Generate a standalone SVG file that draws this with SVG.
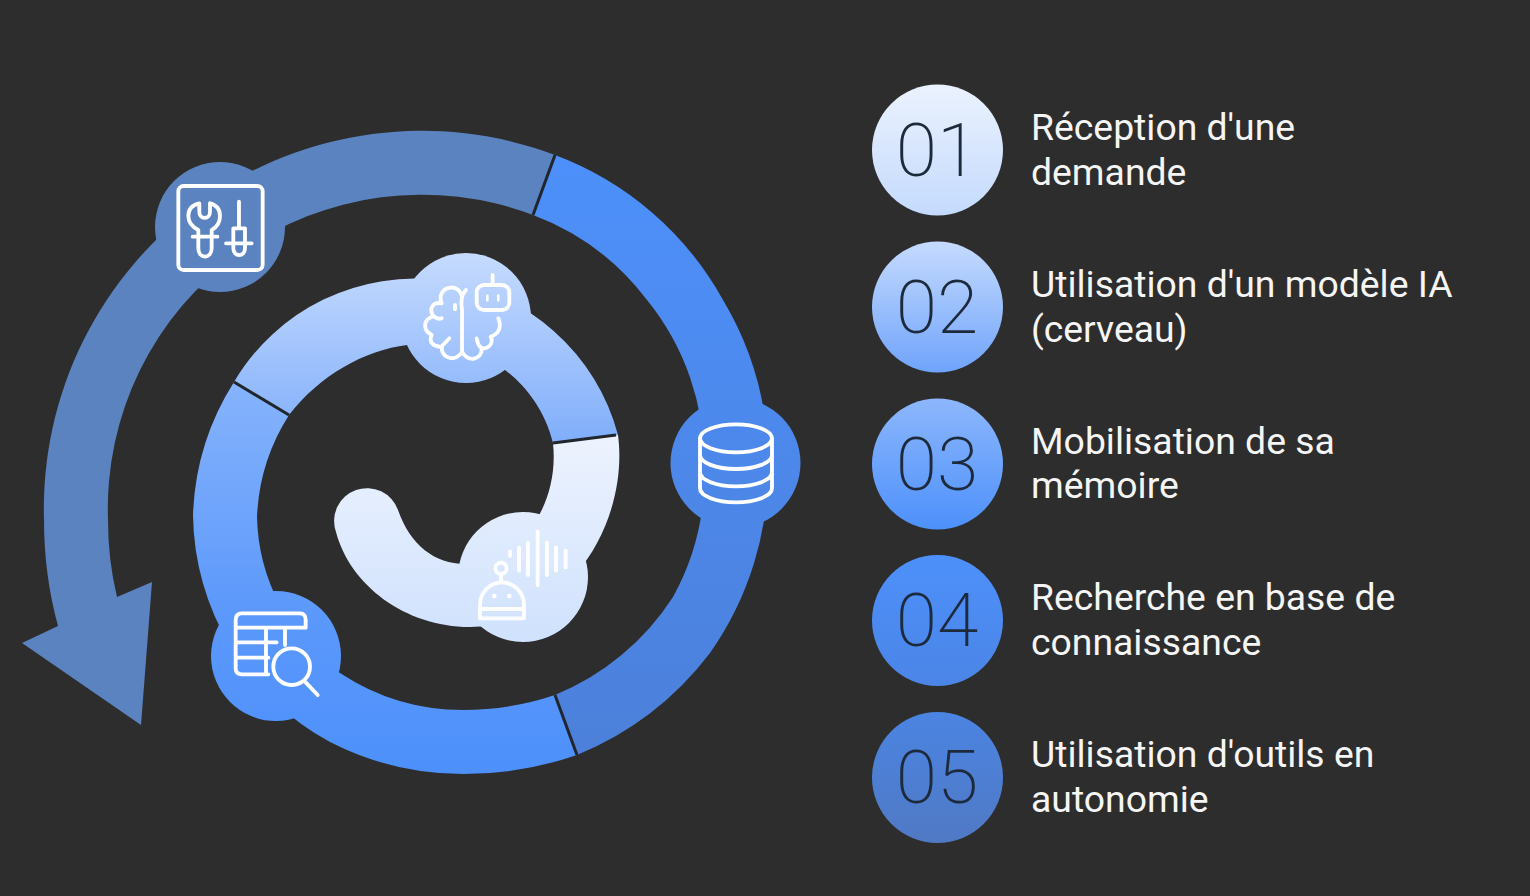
<svg xmlns="http://www.w3.org/2000/svg" width="1530" height="896" viewBox="0 0 1530 896">
<style>
.ic{fill:none;stroke:#fff;stroke-width:11.500;stroke-linecap:round;stroke-linejoin:round}
.sep{stroke:#20262c;stroke-width:3;fill:none}
.lbl{font-family:Roboto,"Liberation Sans",sans-serif;font-size:37.330px;fill:#f5f5f5}
.num{font-family:Roboto,"Liberation Sans",sans-serif;font-size:75px;font-weight:200;fill:#1c2a3c;text-anchor:middle}
</style>
<defs>
<linearGradient id="g1" gradientUnits="userSpaceOnUse" x1="0" y1="435" x2="0" y2="645"><stop offset="0" stop-color="#edf3fe"/><stop offset="1" stop-color="#cfe1fd"/></linearGradient>
<linearGradient id="g2" gradientUnits="userSpaceOnUse" x1="0" y1="253" x2="0" y2="445"><stop offset="0" stop-color="#c6dbfe"/><stop offset="1" stop-color="#7fadfb"/></linearGradient>
<linearGradient id="g3" gradientUnits="userSpaceOnUse" x1="0" y1="382" x2="0" y2="773"><stop offset="0" stop-color="#86b3fc"/><stop offset=".6" stop-color="#5b98fb"/><stop offset="1" stop-color="#4d90fb"/></linearGradient>
<linearGradient id="g4" gradientUnits="userSpaceOnUse" x1="0" y1="155" x2="0" y2="755"><stop offset="0" stop-color="#4d90fb"/><stop offset="1" stop-color="#4c80da"/></linearGradient>
<linearGradient id="c1" x1="0" y1="0" x2="0" y2="1"><stop offset="0" stop-color="#ebf2fe"/><stop offset="1" stop-color="#c4dafd"/></linearGradient>
<linearGradient id="c2" x1="0" y1="0" x2="0" y2="1"><stop offset="0" stop-color="#c6dbfe"/><stop offset="1" stop-color="#6fa3fb"/></linearGradient>
<linearGradient id="c3" x1="0" y1="0" x2="0" y2="1"><stop offset="0" stop-color="#8db7fc"/><stop offset="1" stop-color="#4d90fb"/></linearGradient>
<linearGradient id="c4" x1="0" y1="0" x2="0" y2="1"><stop offset="0" stop-color="#4d90fb"/><stop offset="1" stop-color="#4b85e6"/></linearGradient>
<linearGradient id="c5" x1="0" y1="0" x2="0" y2="1"><stop offset="0" stop-color="#4b84e2"/><stop offset="1" stop-color="#5079c4"/></linearGradient>
</defs>
<rect width="1530" height="896" fill="#2d2d2d"/>
<g id="connectors">
<path d="M555,155 A378,378 0 0 0 44,520 Q44,575 58,626 L22,643 L141,725 L152,582 L117,597 Q108,560 108,520 A314,314 0 0 1 533,215 Z" fill="#5b83c0"/>
<path d="M555,155 A320,320 0 0 1 723,300 A318,318 0 0 1 768,465 A318,318 0 0 1 710,653 A320,320 0 0 1 577,755 L555,695 A255,255 0 0 0 673,597 A252,252 0 0 0 704,465 A255,255 0 0 0 647,300 A255,255 0 0 0 533,215 Z" fill="url(#g4)"/>
<path d="M577,755 A350,350 0 0 1 463,774 A292,292 0 0 1 330,742 A262,262 0 0 1 193,515 A265,265 0 0 1 234,382 L289,415 A205,205 0 0 0 257,517 A195,195 0 0 0 340,673 A223,223 0 0 0 463,710 A290,290 0 0 0 555,695 Z" fill="url(#g3)"/>
<path d="M234,382 A210,210 0 0 1 618,435 L553,443 C545,410 525,385 505,370 L407,345 C365,350 320,375 289,415 Z" fill="url(#g2)"/>
<path d="M618,435 C624,480 610,535 575,575 C545,610 510,627 470,627 C405,627 350,585 336,532 A32,32 0 0 1 398,510 C410,545 435,564 465,564 C515,564 560,510 553,443 Z" fill="url(#g1)"/>
<path class="sep" d="M555,155 L533,215"/>
<path class="sep" d="M577,755 L555,695"/>
<path class="sep" d="M234,382 L289,415"/>
<path class="sep" d="M616,435 L553,443"/>
</g>
<g id="node-tools">
<circle cx="220" cy="227" r="65" fill="#5b83c0"/>
<g transform="translate(140,140) scale(.3333)" class="ic">
<rect x="115" y="138" width="253" height="252" rx="16"/>
<path d="M178,190 C155,195 145,210 145,228 C145,250 160,262 175,270 L175,325 C175,358 215,358 215,325 L215,270 C230,262 240,250 240,228 C240,210 230,195 210,190 L210,215 C210,240 178,240 178,215 Z"/>
<path d="M158,290 L232,290"/>
<path d="M297,185 L297,265 M280,265 L315,265 L315,325 C315,352 280,352 280,325 Z M258,310 L335,310"/>
</g>
</g>
<g id="node-brain">
<circle cx="466" cy="318" r="65" fill="url(#g2)"/>
<g transform="translate(400,240) scale(.3333)" class="ic">
<path d="M278,105 L278,135"/>
<rect x="230" y="135" width="98" height="75" rx="22"/>
<path d="M262,167 L262,181 M295,167 L295,181" stroke-width="8"/>
<path d="M198,150 C182,165 182,185 186,210 L186,335 C200,365 245,365 245,325 C232,315 232,305 230,295 M245,325 C265,328 282,310 272,290 C298,282 305,260 295,235"/>
<path d="M186,335 C170,365 125,360 125,320 C100,322 85,305 95,285 C68,270 68,240 100,228 C85,205 100,185 125,190 C115,165 130,145 150,143 C165,140 182,150 186,170 M100,228 C108,235 118,238 125,235 M125,320 C132,312 140,302 148,295 M165,195 L165,208"/>
</g>
</g>
<g id="node-voice">
<circle cx="523" cy="577" r="65" fill="url(#g1)"/>
<g transform="translate(450,510) scale(.3333)" class="ic">
<path d="M180,124 L180,138 M207,112 L207,182 M234,98 L234,195 M263,65 L263,225 M291,98 L291,195 M318,112 L318,182 M347,122 L347,172"/>
<circle cx="153" cy="175" r="17"/>
<path d="M153,192 L153,215"/>
<path d="M90,325 L90,285 A66,68 0 0 1 222,285 L222,325 Z M90,297 L222,297"/>
<circle cx="133" cy="258" r="7" fill="#fff" stroke="none"/>
<circle cx="178" cy="258" r="7" fill="#fff" stroke="none"/>
</g>
</g>
<g id="node-table">
<circle cx="276" cy="656" r="65" fill="url(#g3)"/>
<g transform="translate(205,585) scale(.3333)" class="ic">
<path d="M190,268 L110,268 Q92,268 92,250 L92,105 Q92,85 110,85 L285,85 Q302,85 302,105 L302,128 L92,128 M92,172 L215,172 M92,218 L190,218 M183,128 L183,268 M240,128 L240,180"/>
<circle cx="260" cy="245" r="55"/>
<path d="M300,290 L338,330"/>
</g>
</g>
<g id="node-db">
<circle cx="735.500" cy="463" r="65" fill="url(#g4)"/>
<g transform="translate(665,395) scale(.3333)" class="ic">
<ellipse cx="213" cy="130" rx="108" ry="42"/>
<path d="M105,130 L105,280 A108,42 0 0 0 321,280 L321,130 M105,180 A108,42 0 0 0 321,180 M105,232 A108,42 0 0 0 321,232"/>
</g>
</g>
<g id="step-1"><circle cx="937.500" cy="150" r="65.500" fill="url(#c1)"/><text class="num" x="937" y="176">01</text><text class="lbl" x="1031" y="140">Réception d'une</text><text class="lbl" x="1031" y="185">demande</text></g>
<g id="step-2"><circle cx="937.500" cy="307" r="65.500" fill="url(#c2)"/><text class="num" x="937" y="333">02</text><text class="lbl" x="1031" y="297">Utilisation d'un modèle IA</text><text class="lbl" x="1031" y="342">(cerveau)</text></g>
<g id="step-3"><circle cx="937.500" cy="464" r="65.500" fill="url(#c3)"/><text class="num" x="937" y="490">03</text><text class="lbl" x="1031" y="454">Mobilisation de sa</text><text class="lbl" x="1031" y="498">mémoire</text></g>
<g id="step-4"><circle cx="937.500" cy="620.500" r="65.500" fill="url(#c4)"/><text class="num" x="937" y="646">04</text><text class="lbl" x="1031" y="610">Recherche en base de</text><text class="lbl" x="1031" y="655">connaissance</text></g>
<g id="step-5"><circle cx="937.500" cy="777.500" r="65.500" fill="url(#c5)"/><text class="num" x="937" y="803">05</text><text class="lbl" x="1031" y="767">Utilisation d'outils en</text><text class="lbl" x="1031" y="812">autonomie</text></g>
</svg>
